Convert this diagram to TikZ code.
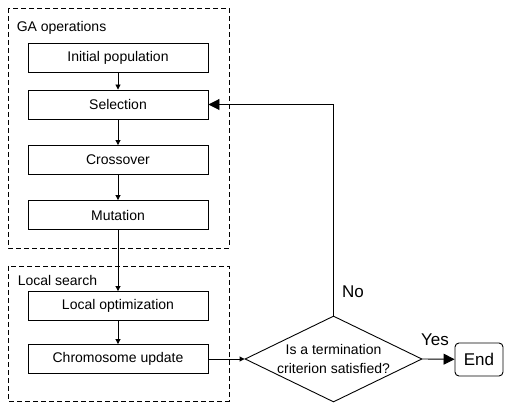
\documentclass[tikz,border=0pt]{standalone}
\usepackage{fontspec}
\setmainfont{Liberation Sans}
\usetikzlibrary{arrows.meta,shapes.geometric}

\tikzset{
  stepbox/.style={draw, line width=0.9pt, minimum width=180pt, minimum height=29pt, inner sep=0pt},
  group/.style={draw, dash pattern=on 5pt off 3pt, line width=0.9pt},
  small/.style={-{Triangle[length=5pt,width=5pt]}},
  big/.style={-{Triangle[length=11pt,width=11pt]}},
  answer/.style={font=\fontsize{17}{20}\selectfont}
}

\begin{document}
\begin{tikzpicture}[x=1pt, y=-1pt, line width=0.9pt, font=\fontsize{14}{19}\selectfont]
        \useasboundingbox (0,0) rectangle (506,403);

        % GA operations
        \draw[group] (8,8) rectangle (229,248);
        \node[anchor=west] (galabel) at (13,28) {GA operations};
        \node[stepbox] (init) at (118,57.5) {Initial population};
        \node[stepbox] (sel) at (118,104.5) {Selection};
        \node[stepbox] (cross) at (118,160) {Crossover};
        \node[stepbox] (mut) at (118,215) {Mutation};

        % Local search
        \draw[group] (8,266) rectangle (229,401);
        \node[anchor=west] (lslabel) at (14,280) {Local search};
        \node[stepbox] (locopt) at (118,306) {Local optimization};
        \node[stepbox] (chrom) at (118,359) {Chromosome update};

        % Termination test
        \node[draw, diamond, minimum width=177pt, minimum height=86pt, inner sep=0pt] (check) at (333.5,359) {};
        \node[align=center] (checktext) at (333.5,358.5) {Is a termination\\criterion satisfied?};
        \node[draw, rounded corners=4pt, minimum width=48pt, minimum height=33pt, inner sep=0pt, answer] (end) at (479,359.5) {End};

        % Arrows
        \draw[small] (init) -- (sel);
        \draw[small] (sel) -- (cross);
        \draw[small] (cross) -- (mut);
        \draw[small] (mut) -- (locopt);
        \draw[small] (locopt) -- (chrom);
        \draw[small] (chrom) -- (check.west);
        \draw[big] (check.east) -- (end);
        \draw[big] (check.north) |- (sel.east);
        \node[answer] (yes) at (435,340) {Yes};
        \node[answer] (no) at (353,292) {No};
\end{tikzpicture}
\end{document}
